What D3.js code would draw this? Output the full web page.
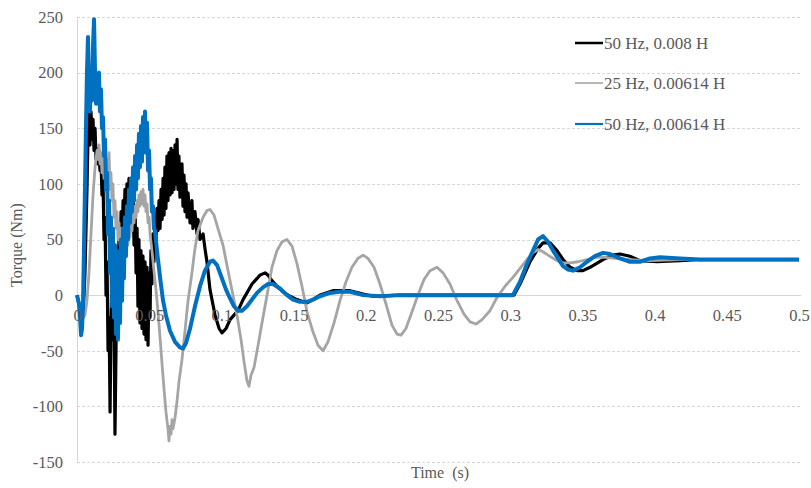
<!DOCTYPE html>
<html>
<head>
<meta charset="utf-8">
<script src="https://cdn.jsdelivr.net/npm/d3@7"></script>
<style>
  html, body { margin: 0; padding: 0; background: #fff; }
  svg text { font-family: "Liberation Serif", "Times New Roman", serif; fill: #595959; }
</style>
</head>
<body>
<svg id="chart" width="811" height="488"></svg>
<script>
// Torque response (Nm) against time (s) for three supply/inductance cases.
const xTicks = [0, 0.05, 0.1, 0.15, 0.2, 0.25, 0.3, 0.35, 0.4, 0.45, 0.5];
const yTicks = [-150, -100, -50, 0, 50, 100, 150, 200, 250];
const seriesNames = ["50 Hz, 0.008 H", "25 Hz, 0.00614 H", "50 Hz, 0.00614 H"];

// [time s, torque Nm]
const torque50Hz0008 = [
  [0,0],[0.0014,-8],[0.0028,-22],[0.0042,-20],[0.0055,20],[0.0069,95],[0.0076,140],[0.0083,170],
  [0.0090,135],[0.0097,165],[0.0104,140],[0.0111,158],[0.0118,130],[0.0125,150],[0.0132,122],
  [0.0139,132],[0.0145,118],[0.0152,130],[0.0159,112],[0.0166,122],[0.0173,90],[0.0180,105],
  [0.0187,50],[0.0194,70],[0.0201,0],[0.0208,30],[0.0215,-50],[0.0222,-20],[0.0229,-105],
  [0.0235,-30],[0.0242,20],[0.0249,-40],[0.0256,-10],[0.0263,-125],[0.0270,-50],[0.0277,30],
  [0.0284,-10],[0.0291,60],[0.0298,20],[0.0305,75],[0.0312,40],[0.0319,85],[0.0325,55],
  [0.0332,95],[0.0339,60],[0.0346,100],[0.0353,70],[0.0360,105],[0.0367,65],[0.0374,100],
  [0.0381,60],[0.0388,95],[0.0395,45],[0.0402,80],[0.0409,20],[0.0416,60],[0.0422,-10],
  [0.0429,50],[0.0436,-25],[0.0443,40],[0.0450,-30],[0.0457,35],[0.0464,-35],[0.0471,30],
  [0.0478,-40],[0.0485,25],[0.0492,-45],[0.0499,20],[0.0506,-20],[0.0512,40],[0.0519,10],
  [0.0526,55],[0.0533,30],[0.0540,70],[0.0547,50],[0.0554,78],[0.0561,58],[0.0568,85],
  [0.0575,60],[0.0582,95],[0.0589,68],[0.0596,105],[0.0603,72],[0.0609,115],[0.0616,78],
  [0.0623,125],[0.0630,85],[0.0637,128],[0.0644,90],[0.0651,132],[0.0658,92],[0.0665,130],
  [0.0672,95],[0.0679,135],[0.0686,100],[0.0693,140],[0.0699,95],[0.0706,125],[0.0713,88],
  [0.0727,118],[0.0734,80],[0.0741,108],[0.0748,75],[0.0755,100],[0.0762,70],[0.0769,92],
  [0.0783,65],[0.0796,85],[0.0803,60],[0.0817,75],[0.0831,55],[0.0838,68],[0.0852,50],
  [0.0873,55],[0.0886,42],[0.0900,30],[0.0921,5],[0.0956,-18],[0.0984,-30],[0.1004,-34],
  [0.1032,-30],[0.1060,-22],[0.1087,-18],[0.1115,-14],[0.1150,-4],[0.1177,2],[0.1212,10],
  [0.1247,15],[0.1267,18],[0.1302,20],[0.1323,18],[0.1350,13],[0.1385,8],[0.1427,3],
  [0.1475,-1],[0.1524,-4],[0.1565,-6],[0.1593,-7],[0.1634,-4],[0.1683,0],[0.1773,4],
  [0.1891,4],[0.1981,1],[0.2050,-1],[0.2237,0],[0.2493,0],[0.2791,0],[0.2999,0],[0.3026,0],
  [0.3068,10],[0.3137,30],[0.3193,42],[0.3227,47],[0.3276,47],[0.3324,40],[0.3366,32],
  [0.3415,25],[0.3463,22],[0.3504,22],[0.3553,25],[0.3643,32],[0.3712,36],[0.3760,37],
  [0.3829,35],[0.3899,31],[0.4017,30],[0.4176,31],[0.4314,32],[0.5,32]
];

const torque25Hz00614 = [
  [0,0],[0.0014,-8],[0.0028,-16],[0.0042,-20],[0.0055,-18],[0.0069,-5],[0.0083,20],[0.0097,55],
  [0.0111,90],[0.0125,115],[0.0139,130],[0.0145,122],[0.0152,135],[0.0159,118],[0.0166,128],
  [0.0173,110],[0.0180,125],[0.0187,105],[0.0194,120],[0.0201,100],[0.0208,122],[0.0215,98],
  [0.0222,128],[0.0229,95],[0.0235,110],[0.0242,85],[0.0249,100],[0.0256,70],[0.0263,85],
  [0.0270,60],[0.0277,75],[0.0284,50],[0.0291,65],[0.0298,45],[0.0305,60],[0.0312,38],
  [0.0319,55],[0.0325,35],[0.0332,50],[0.0339,38],[0.0346,55],[0.0353,45],[0.0360,62],
  [0.0367,52],[0.0374,68],[0.0381,58],[0.0388,75],[0.0395,65],[0.0402,80],[0.0409,70],
  [0.0416,85],[0.0422,75],[0.0429,90],[0.0436,80],[0.0443,93],[0.0450,82],[0.0457,95],
  [0.0464,80],[0.0471,90],[0.0478,75],[0.0485,82],[0.0492,65],[0.0499,70],[0.0506,55],
  [0.0519,40],[0.0533,22],[0.0547,5],[0.0561,-15],[0.0575,-38],[0.0589,-62],[0.0603,-85],
  [0.0616,-105],[0.0630,-120],[0.0637,-131],[0.0644,-118],[0.0651,-125],[0.0658,-112],
  [0.0665,-120],[0.0679,-110],[0.0693,-95],[0.0706,-78],[0.0727,-58],[0.0748,-32],[0.0769,-5],
  [0.0796,20],[0.0817,42],[0.0838,58],[0.0873,70],[0.0900,76],[0.0921,77],[0.0949,72],
  [0.0976,60],[0.1011,45],[0.1046,22],[0.1080,0],[0.1108,-18],[0.1136,-40],[0.1157,-60],
  [0.1177,-77],[0.1191,-82],[0.1205,-72],[0.1226,-65],[0.1254,-45],[0.1281,-25],[0.1316,0],
  [0.1350,25],[0.1385,40],[0.1420,48],[0.1454,50],[0.1489,44],[0.1524,28],[0.1558,8],
  [0.1593,-15],[0.1634,-33],[0.1669,-45],[0.1704,-50],[0.1738,-42],[0.1780,-25],[0.1821,-5],
  [0.1863,12],[0.1904,25],[0.1946,33],[0.1981,36],[0.2015,33],[0.2057,25],[0.2098,10],
  [0.2140,-8],[0.2181,-27],[0.2216,-35],[0.2244,-36],[0.2278,-30],[0.2320,-15],[0.2361,0],
  [0.2403,14],[0.2445,22],[0.2493,25],[0.2535,20],[0.2583,10],[0.2632,-5],[0.2680,-17],
  [0.2722,-24],[0.2763,-26],[0.2805,-22],[0.2860,-14],[0.2909,-2],[0.2964,8],[0.3019,16],
  [0.3068,24],[0.3116,32],[0.3158,38],[0.3193,41],[0.3227,39],[0.3262,36],[0.3310,32],
  [0.3359,29],[0.3415,29],[0.3470,30],[0.3532,32],[0.3587,34],[0.3657,34],[0.3726,33],
  [0.3829,32],[0.3968,31],[0.4176,32],[0.5,32]
];

const torque50Hz00614 = [
  [0,0],[0.0014,-8],[0.0021,-20],[0.0028,-36],[0.0035,-30],[0.0042,-5],[0.0048,40],[0.0055,95],
  [0.0062,150],[0.0069,200],[0.0076,232],[0.0083,190],[0.0090,165],[0.0097,200],[0.0104,175],
  [0.0111,225],[0.0118,248],[0.0125,200],[0.0132,172],[0.0139,190],[0.0145,178],[0.0152,200],
  [0.0159,165],[0.0166,185],[0.0173,150],[0.0180,160],[0.0187,125],[0.0194,140],[0.0201,95],
  [0.0208,110],[0.0215,55],[0.0222,85],[0.0229,20],[0.0235,70],[0.0242,-10],[0.0249,60],
  [0.0256,-20],[0.0263,45],[0.0270,-35],[0.0277,40],[0.0284,-40],[0.0291,35],[0.0298,-25],
  [0.0305,50],[0.0312,-5],[0.0319,60],[0.0325,15],[0.0332,70],[0.0339,35],[0.0346,80],
  [0.0353,50],[0.0360,95],[0.0367,65],[0.0374,105],[0.0381,75],[0.0388,115],[0.0395,85],
  [0.0402,125],[0.0409,95],[0.0416,135],[0.0422,105],[0.0429,145],[0.0436,115],[0.0443,152],
  [0.0450,120],[0.0457,160],[0.0464,130],[0.0471,165],[0.0478,128],[0.0485,155],[0.0492,112],
  [0.0499,130],[0.0506,95],[0.0512,105],[0.0519,75],[0.0526,80],[0.0533,60],[0.0540,58],
  [0.0554,40],[0.0575,16],[0.0596,-5],[0.0616,-18],[0.0644,-32],[0.0679,-42],[0.0713,-47],
  [0.0734,-48],[0.0755,-43],[0.0783,-30],[0.0817,-10],[0.0852,8],[0.0886,22],[0.0921,30],
  [0.0942,31],[0.0970,27],[0.1004,15],[0.1032,5],[0.1060,-3],[0.1087,-10],[0.1115,-14],
  [0.1143,-14],[0.1177,-10],[0.1212,-4],[0.1247,2],[0.1288,7],[0.1323,10],[0.1357,10],
  [0.1406,6],[0.1454,0],[0.1496,-4],[0.1544,-6],[0.1593,-6],[0.1634,-4],[0.1683,-1],
  [0.1752,2],[0.1821,3],[0.1891,3],[0.1981,0],[0.2098,-1],[0.2237,0],[0.2493,0],[0.2791,0],
  [0.2999,0],[0.3019,0],[0.3068,12],[0.3116,28],[0.3158,40],[0.3193,50],[0.3227,53],
  [0.3262,48],[0.3297,40],[0.3331,33],[0.3366,26],[0.3401,23],[0.3435,22],[0.3484,25],
  [0.3532,30],[0.3587,35],[0.3643,38],[0.3691,37],[0.3760,33],[0.3829,30],[0.3899,30],
  [0.3968,33],[0.4037,34],[0.4176,33],[0.4314,32],[0.5,32]
];

const svg = d3.select("#chart");
const plot = { left: 77, right: 799, top: 17, bottom: 462 };

const x = d3.scaleLinear().domain([0, 0.5]).range([plot.left, plot.right]);
const y = d3.scaleLinear().domain([-150, 250]).range([plot.bottom, plot.top]);

// horizontal gridlines
const grid = svg.append("g")
  .attr("transform", `translate(${plot.left},0)`)
  .call(d3.axisLeft(y).tickValues(yTicks).tickSize(-(plot.right - plot.left + 2)).tickFormat(""));
grid.select(".domain").remove();
grid.selectAll("line")
  .attr("stroke", "#d6d6d6")
  .attr("stroke-dasharray", d => d === 0 ? null : "3,2")
  .attr("stroke-width", 1)
  .attr("shape-rendering", "crispEdges");

// left edge of plot area
svg.append("line")
  .attr("x1", plot.left).attr("x2", plot.left)
  .attr("y1", plot.top).attr("y2", plot.bottom)
  .attr("stroke", "#d6d6d6").attr("shape-rendering", "crispEdges");

// y axis labels (plain hyphen for negatives)
const yAxis = svg.append("g")
  .attr("transform", `translate(${plot.left},0)`)
  .call(d3.axisLeft(y).tickValues(yTicks).tickSize(0).tickPadding(14).tickFormat(d => String(d)));
yAxis.select(".domain").remove();
yAxis.selectAll("text")
  .attr("font-size", "16.5px")
  .attr("font-family", "Liberation Serif")
  .attr("fill", "#595959");

// lines, drawn in legend order so the last sits on top
const line = d3.line().x(d => x(d[0])).y(d => y(d[1]));
const series = [
  { name: seriesNames[0], data: torque50Hz0008, color: "#000000", width: 3.2 },
  { name: seriesNames[1], data: torque25Hz00614, color: "#a5a5a5", width: 2.8 },
  { name: seriesNames[2], data: torque50Hz00614, color: "#0070c0", width: 4 }
];
svg.append("g").selectAll("path")
  .data(series)
  .join("path")
  .attr("d", d => line(d.data))
  .attr("fill", "none")
  .attr("stroke", d => d.color)
  .attr("stroke-width", d => d.width)
  .attr("stroke-linejoin", "round");

// x axis labels sit along the zero line
const xAxis = svg.append("g")
  .attr("transform", `translate(0,${y(0)})`)
  .call(d3.axisBottom(x).tickValues(xTicks).tickSize(0).tickPadding(14)
    .tickFormat(d => String(+d.toFixed(2))));
xAxis.select(".domain").remove();
xAxis.selectAll("text")
  .attr("font-size", "16.5px")
  .attr("font-family", "Liberation Serif")
  .attr("fill", "#595959");

// axis titles
svg.append("text")
  .attr("transform", "translate(22,245) rotate(-90)")
  .attr("text-anchor", "middle")
  .attr("font-size", "16px")
  .text("Torque (Nm)");
svg.append("text")
  .attr("x", 440).attr("y", 478)
  .attr("text-anchor", "middle")
  .attr("font-size", "16px")
  .attr("xml:space", "preserve")
  .style("white-space", "pre")
  .text("Time  (s)");

// legend
const legendRows = [43, 83, 124];
const legend = svg.append("g").selectAll("g")
  .data(series)
  .join("g")
  .attr("transform", (d, i) => `translate(575,${legendRows[i]})`);
legend.append("line")
  .attr("x1", 0).attr("x2", 28)
  .attr("stroke", d => d.color)
  .attr("stroke-width", (d, i) => [2.5, 1.6, 2.2][i]);
legend.append("text")
  .attr("x", 29).attr("dy", "0.33em")
  .attr("font-size", "17px")
  .text(d => d.name);
</script>
</body>
</html>
